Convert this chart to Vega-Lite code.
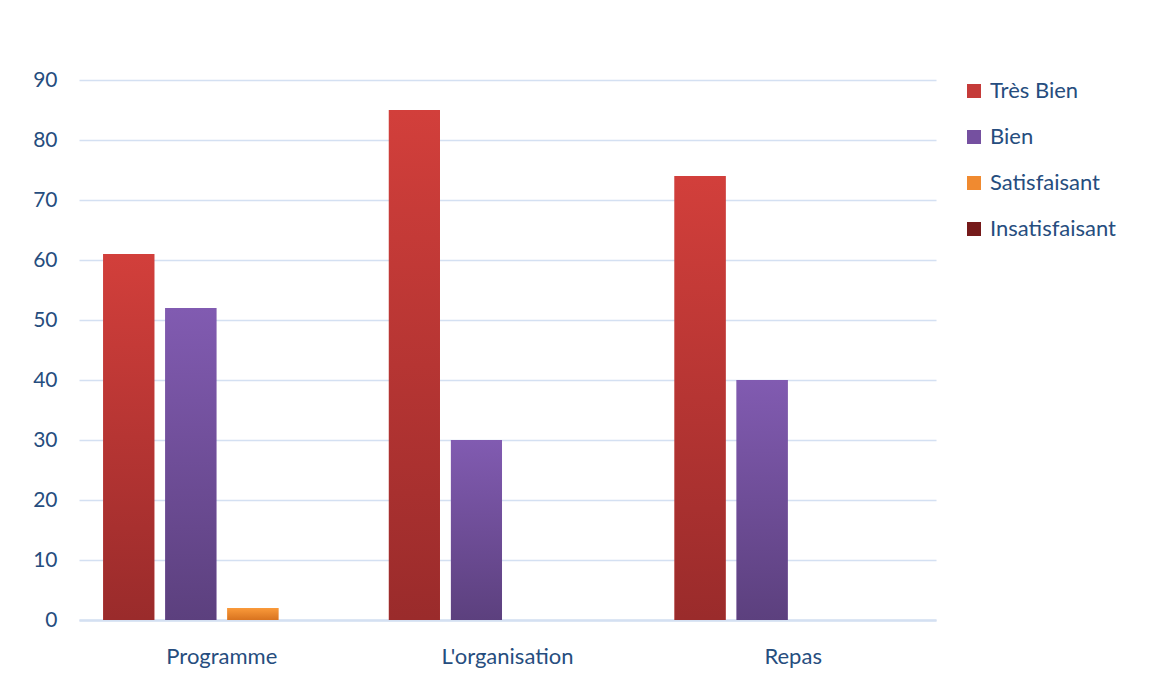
{
  "$schema": "https://vega.github.io/schema/vega-lite/v6.json",
  "width": 857,
  "height": 540,
  "autosize": {"type": "none"},
  "padding": {"left": 79, "top": 80, "right": 223, "bottom": 64},
  "background": "white",
  "data": {"values": [
    {"cat": "Programme", "s": "Très Bien", "v": 61},
    {"cat": "Programme", "s": "Bien", "v": 52},
    {"cat": "Programme", "s": "Satisfaisant", "v": 2},
    {"cat": "Programme", "s": "Insatisfaisant", "v": 0},
    {"cat": "L'organisation", "s": "Très Bien", "v": 85},
    {"cat": "L'organisation", "s": "Bien", "v": 30},
    {"cat": "L'organisation", "s": "Satisfaisant", "v": 0},
    {"cat": "L'organisation", "s": "Insatisfaisant", "v": 0},
    {"cat": "Repas", "s": "Très Bien", "v": 74},
    {"cat": "Repas", "s": "Bien", "v": 40},
    {"cat": "Repas", "s": "Satisfaisant", "v": 0},
    {"cat": "Repas", "s": "Insatisfaisant", "v": 0}
  ]},
  "encoding": {
    "x": {
      "field": "cat", "type": "nominal", "sort": null,
      "scale": {"paddingInner": 0, "paddingOuter": 0},
      "axis": {"title": null, "labelAngle": 0, "ticks": false, "labelPadding": 26, "labelFontSize": 22, "labelColor": "#264d7e", "labelFont": "Lato", "domainColor": "#d4e0f2", "domainWidth": 2.5, "grid": false}
    },
    "xOffset": {
      "field": "s", "type": "nominal",
      "scale": {"domain": ["Très Bien", "Bien", "Satisfaisant", "Insatisfaisant"], "paddingInner": 0.177, "paddingOuter": 0.39}
    },
    "y": {
      "field": "v", "type": "quantitative",
      "scale": {"domain": [0, 90]},
      "axis": {"title": null, "values": [0,10,20,30,40,50,60,70,80,90], "ticks": false, "domain": false, "labelPadding": 22, "labelFontSize": 21, "labelColor": "#264d7e", "labelFont": "Lato", "gridColor": "#d4e0f2", "gridWidth": 1.5}
    }
  },
  "layer": [
    {
      "mark": {"type": "bar", "strokeWidth": 0},
      "encoding": {
        "fill": {
          "field": "s", "type": "nominal",
          "scale": {"domain": ["Très Bien", "Bien", "Satisfaisant", "Insatisfaisant"], "range": ["#c53b39", "#7550a0", "#f08a30", "#751a1a"]},
          "legend": {"title": null, "orient": "none", "legendX": 884, "legendY": 0, "symbolType": "square", "symbolSize": 196, "symbolStrokeWidth": 0, "labelFontSize": 22, "labelColor": "#264d7e", "labelFont": "Lato", "labelOffset": 5, "rowPadding": 24, "symbolOffset": 0}
        }
      }
    },
    {
      "transform": [{"filter": "datum.s === 'Très Bien'"}],
      "mark": {"type": "bar", "strokeWidth": 0, "fill": {"gradient": "linear", "x1": 0, "y1": 0, "x2": 0, "y2": 1, "stops": [{"offset": 0, "color": "#d23f3b"}, {"offset": 1, "color": "#9a2b2b"}]}}
    },
    {
      "transform": [{"filter": "datum.s === 'Bien'"}],
      "mark": {"type": "bar", "strokeWidth": 0, "fill": {"gradient": "linear", "x1": 0, "y1": 0, "x2": 0, "y2": 1, "stops": [{"offset": 0, "color": "#815bb1"}, {"offset": 1, "color": "#5c407e"}]}}
    },
    {
      "transform": [{"filter": "datum.s === 'Satisfaisant'"}],
      "mark": {"type": "bar", "strokeWidth": 0, "fill": {"gradient": "linear", "x1": 0, "y1": 0, "x2": 0, "y2": 1, "stops": [{"offset": 0, "color": "#fa9a3a"}, {"offset": 1, "color": "#d8731f"}]}}
    }
  ],
  "config": {"view": {"stroke": null}}
}
